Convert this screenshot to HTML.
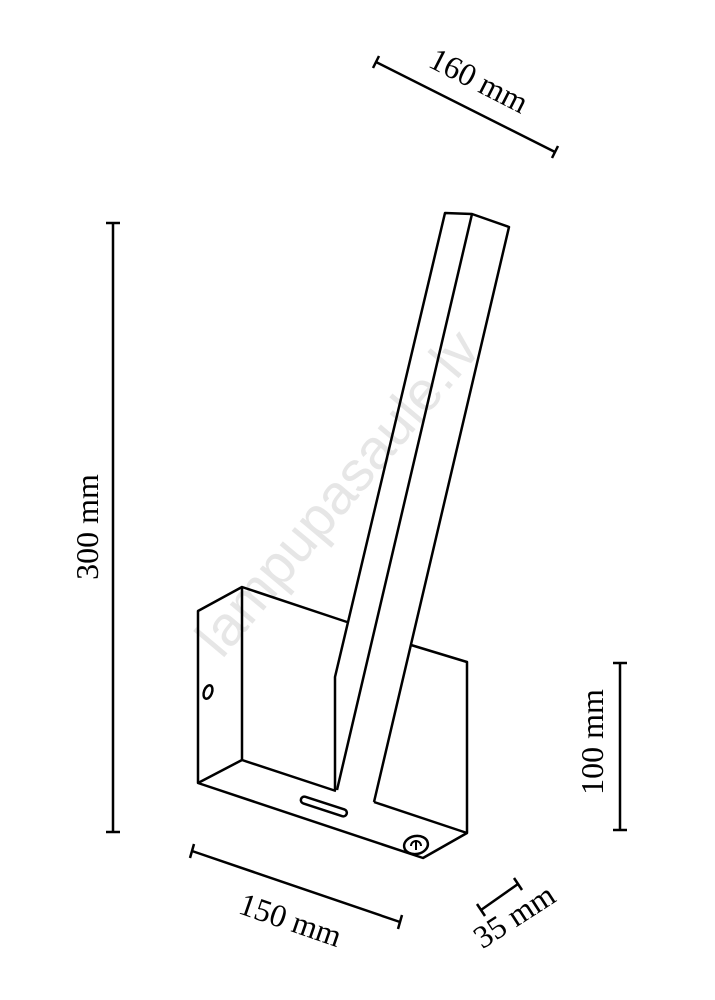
<!DOCTYPE html>
<html><head><style>body{margin:0;background:#fff}svg{display:block}</style></head>
<body>
<svg width="715" height="1000" viewBox="0 0 715 1000" xmlns="http://www.w3.org/2000/svg" font-family="Liberation Serif, serif" font-size="32">
<text x="352" y="505" transform="rotate(-50 352 505)" text-anchor="middle" font-family="Liberation Sans, sans-serif" font-size="56" fill="#e6e6e6">lampupasaule.lv</text>
<g fill="none" stroke="#000" stroke-width="2.5" stroke-linejoin="round">
<line x1="113" y1="223" x2="113" y2="832"/><line x1="106" y1="223" x2="120" y2="223"/><line x1="106" y1="832" x2="120" y2="832"/>
<line x1="620" y1="663" x2="620" y2="830"/><line x1="613" y1="663" x2="627" y2="663"/><line x1="613" y1="830" x2="627" y2="830"/>
<line x1="192" y1="851" x2="400" y2="922"/><line x1="194" y1="844" x2="190" y2="858"/><line x1="402" y1="915" x2="398" y2="929"/>
<line x1="376" y1="62" x2="555" y2="152"/><line x1="379" y1="56" x2="373" y2="68"/><line x1="558" y1="146" x2="552" y2="158"/>
<line x1="481" y1="910" x2="518" y2="884"/><line x1="477" y1="904" x2="485" y2="916"/><line x1="514" y1="878" x2="522" y2="890"/>
<polyline points="347,622 242,587 198,611 198,783 423,858 467,833 467,662 411,645"/>
<line x1="242" y1="587" x2="242" y2="760"/>
<polyline points="198,783 242,760 336,791"/>
<line x1="374" y1="802" x2="467" y2="833"/>
<polyline points="335,790 335,677 445,213 472,214 509,227 374,802"/>
<line x1="472" y1="214" x2="337" y2="790"/>
<rect x="300" y="803" width="48" height="7" rx="3.5" transform="rotate(18 324 806)"/>
<ellipse cx="208" cy="692" rx="4" ry="7" transform="rotate(20 208 692)"/>
<ellipse cx="416" cy="845" rx="12" ry="9" transform="rotate(-10 416 845)"/>
<path d="M411 846 a5 5 0 0 1 10 0 M416 840 v10" stroke-width="2"/>
</g>
<text x="98" y="527" transform="rotate(-90 98 527)" text-anchor="middle">300 mm</text>
<text x="603" y="742" transform="rotate(-90 603 742)" text-anchor="middle">100 mm</text>
<text x="287" y="930" transform="rotate(19 287 930)" text-anchor="middle">150 mm</text>
<text x="474" y="90" transform="rotate(27 474 90)" text-anchor="middle">160 mm</text>
<text x="520" y="925" transform="rotate(-33 520 925)" text-anchor="middle">35 mm</text>
</svg>
</body></html>
